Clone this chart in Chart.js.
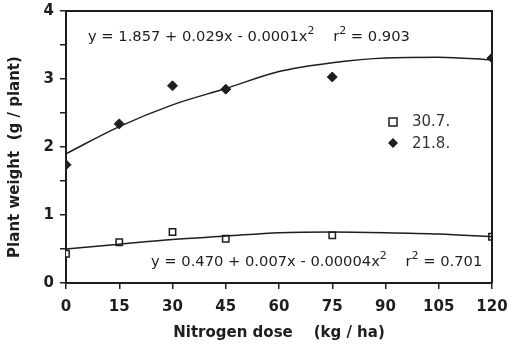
<!DOCTYPE html>
<html>
<head>
<meta charset="utf-8">
<script src="https://cdn.jsdelivr.net/npm/chart.js@4.4.1/dist/chart.umd.min.js"></script>
<style>
  html, body { margin: 0; padding: 0; background: #fff; }
  #wrap { width: 512px; height: 344px; }
</style>
</head>
<body>
<div id="wrap"><canvas id="plantas"></canvas></div>
<script>
// valores
var doses = [0, 15, 30, 45, 75, 120];
var weight218 = [1.74, 2.34, 2.90, 2.85, 3.03, 3.31];
var weight307 = [0.43, 0.60, 0.75, 0.65, 0.70, 0.68];
// curvas ajustadas
var curveX = [0, 15, 30, 45, 60, 75, 90, 105, 120];
var fit218 = [1.90, 2.30, 2.62, 2.86, 3.11, 3.24, 3.31, 3.32, 3.28];
var fit307 = [0.50, 0.57, 0.64, 0.69, 0.74, 0.75, 0.74, 0.72, 0.68];
var legendLabels = ["30.7.", "21.8."];
var eqTop = [["y = 1.857 + 0.029x - 0.0001x", 0], ["2", 1], ["    r", 0], ["2", 1], [" = 0.903", 0]];
var eqBottom = [["y = 0.470 + 0.007x - 0.00004x", 0], ["2", 1], ["    r", 0], ["2", 1], [" = 0.701", 0]];

function pares(xs, ys) {
  return xs.map(function (x, i) { return { x: x, y: ys[i] }; });
}

var ink = "#1e1e1e";
var boldFont = { family: "'DejaVu Sans'", weight: "bold", size: 15 };

function drawEq(ctx, parts, x, y) {
  var cx = x;
  parts.forEach(function (p) {
    if (p[1]) {
      ctx.font = "11px 'DejaVu Sans'";
      ctx.fillText(p[0], cx, y - 7);
    } else {
      ctx.font = "14.7px 'DejaVu Sans'";
      ctx.fillText(p[0], cx, y);
    }
    cx += ctx.measureText(p[0]).width;
  });
}

var extras = {
  id: "extras",
  afterDraw: function (chart) {
    var ctx = chart.ctx;
    var a = chart.chartArea;
    ctx.save();
    // caja
    ctx.strokeStyle = ink;
    ctx.lineWidth = 2;
    ctx.beginPath();
    ctx.moveTo(a.left, a.top);
    ctx.lineTo(a.right, a.top);
    ctx.lineTo(a.right, a.bottom);
    ctx.stroke();
    // ecuaciones
    ctx.fillStyle = ink;
    ctx.textBaseline = "alphabetic";
    drawEq(ctx, eqTop, 88, 41);
    drawEq(ctx, eqBottom, 151, 266);
    // leyenda
    ctx.strokeStyle = ink;
    ctx.lineWidth = 1.5;
    ctx.fillStyle = "#fff";
    ctx.fillRect(389, 118, 8, 8);
    ctx.strokeRect(389, 118, 8, 8);
    ctx.fillStyle = ink;
    ctx.beginPath();
    ctx.moveTo(393, 138); ctx.lineTo(398, 143); ctx.lineTo(393, 148); ctx.lineTo(388, 143);
    ctx.closePath(); ctx.fill();
    ctx.font = "15px 'DejaVu Sans'";
    ctx.fillStyle = "#333";
    ctx.textBaseline = "middle";
    ctx.fillText(legendLabels[0], 412, 122);
    ctx.fillText(legendLabels[1], 412, 144);
    // titulo eje y
    ctx.translate(15, 157);
    ctx.rotate(-Math.PI / 2);
    ctx.textAlign = "center";
    ctx.fillStyle = ink;
    ctx.font = "bold 15px 'DejaVu Sans'";
    ctx.fillText("Plant weight  (g / plant)", 0, 0);
    ctx.restore();
  }
};

var grafico = new Chart(document.getElementById("plantas").getContext("2d"), {
  type: "scatter",
  data: {
    datasets: [
      {
        label: "curva 21.8",
        data: pares(curveX, fit218),
        showLine: true,
        borderColor: ink,
        borderWidth: 1.5,
        pointRadius: 0,
        tension: 0.4,
        cubicInterpolationMode: "monotone"
      },
      {
        label: "curva 30.7",
        data: pares(curveX, fit307),
        showLine: true,
        borderColor: ink,
        borderWidth: 1.5,
        pointRadius: 0,
        tension: 0.4,
        cubicInterpolationMode: "monotone"
      },
      {
        label: legendLabels[1],
        data: pares(doses, weight218),
        pointStyle: "rectRot",
        pointRadius: 5,
        backgroundColor: ink,
        borderColor: ink,
        borderWidth: 1
      },
      {
        label: legendLabels[0],
        data: pares(doses, weight307),
        pointStyle: "rect",
        pointRadius: 4.5,
        backgroundColor: "#fff",
        borderColor: ink,
        borderWidth: 1.5
      }
    ]
  },
  options: {
    responsive: true,
    maintainAspectRatio: false,
    animation: false,
    layout: { padding: { top: 11, right: 20, left: 0, bottom: 0 } },
    plugins: { legend: { display: false }, tooltip: { enabled: false } },
    scales: {
      x: {
        type: "linear",
        min: 0,
        max: 120,
        afterFit: function (s) { s.height = 61; s.paddingRight = 0; s.paddingLeft = 0; },
        border: { color: ink, width: 2 },
        grid: { drawOnChartArea: false, color: ink, tickLength: 6, lineWidth: 1.5 },
        ticks: {
          stepSize: 15,
          color: ink,
          padding: 9,
          maxRotation: 0,
          font: boldFont
        },
        title: {
          display: true,
          text: "Nitrogen dose    (kg / ha)",
          color: ink,
          padding: { top: 4, bottom: 2 },
          font: boldFont
        }
      },
      y: {
        min: 0,
        max: 4,
        afterFit: function (s) { s.width = 66; s.paddingTop = 0; s.paddingBottom = 0; },
        border: { color: ink, width: 2 },
        grid: { drawOnChartArea: false, color: ink, tickLength: 6, lineWidth: 1.5 },
        ticks: {
          stepSize: 0.5,
          color: ink,
          padding: 6,
          font: boldFont,
          callback: function (v) { return Number.isInteger(v) ? v : ""; }
        }
      }
    }
  },
  plugins: [extras]
});
</script>
</body>
</html>
